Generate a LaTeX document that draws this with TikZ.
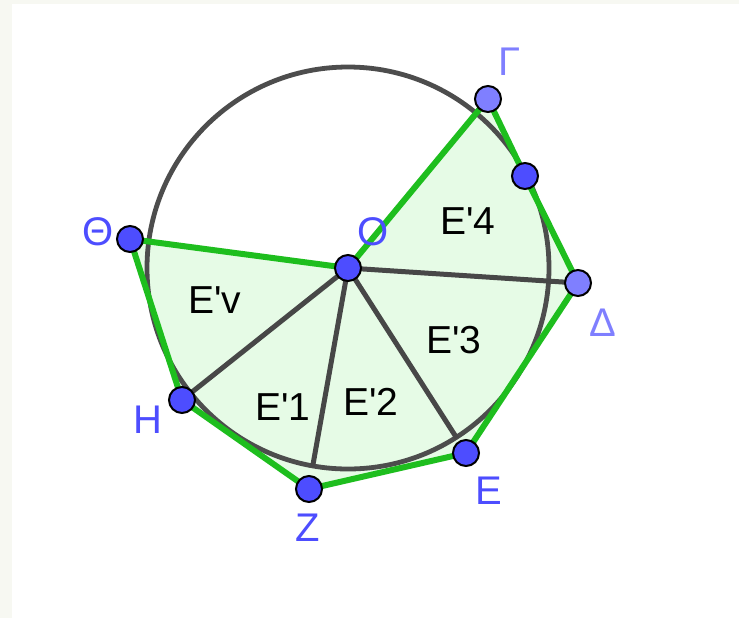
\documentclass[tikz,border=0pt]{standalone}
\usepackage{fontspec}
\setmainfont{Liberation Sans}
\usepackage{xcolor}
\definecolor{cEdge}{HTML}{1EBE1E}
\definecolor{cFill}{HTML}{E6FBE6}
\definecolor{cRay}{HTML}{474747}
\definecolor{cCircle}{HTML}{4D4D4D}
\definecolor{cPoint}{HTML}{4D4DFF}
\definecolor{cPointLt}{HTML}{7F7FFF}
\definecolor{cFrame}{HTML}{F7F8F2}
\usepackage{tikz}
\usetikzlibrary{positioning,backgrounds}
\tikzset{
  pt-dot/.style={circle,draw=black,line width=1pt,fill=cPoint,
    minimum size=13pt,inner sep=0pt},
  pt-dot-free/.style={pt-dot,fill=cPointLt},
  pt-name/.style={text=cPoint,font=\fontsize{20}{22}\selectfont,inner sep=0pt},
  pt-name-free/.style={pt-name,text=cPointLt},
  area-name/.style={font=\fontsize{19.5}{22}\selectfont,inner sep=0pt},
  side/.style={draw=cEdge,line width=3pt,line join=round},
  ray/.style={draw=cRay,line width=2.5pt},
}

\begin{document}
\begin{tikzpicture}[x=0.5pt,y=-0.5pt]
  \useasboundingbox (0,0) rectangle (739,618);
  % points
  \node[pt-dot]      (O)  at (348,268) {};
  \node[pt-dot-free] (G)  at (488,99)  {};
  \node[pt-dot]      (P)  at (525,176) {};
  \node[pt-dot-free] (D)  at (578,283) {};
  \node[pt-dot]      (E)  at (466,453) {};
  \node[pt-dot]      (Z)  at (309,489) {};
  \node[pt-dot]      (H)  at (182,400) {};
  \node[pt-dot]      (Th) at (130,239) {};
  \coordinate (cZ) at ([shift={(259.9:101pt)}]O.center);
  \coordinate (cE) at ([shift={(-57.4:101pt)}]O.center);
  \begin{scope}[on background layer]
    \fill[cFrame] (0,0) rectangle (739,618);
    \fill[white] (12,4) rectangle (739,618);
    \fill[cFill] (O.center) -- (G.center) -- (P.center) -- (D.center)
      -- (E.center) -- (Z.center) -- (H.center) -- (Th.center) -- cycle;
    \draw[cCircle,line width=2.4pt] (O.center) circle[radius=100.5pt];
    \draw[side] (Th.center) -- (H.center) -- (Z.center) -- (E.center)
      -- (D.center) -- (P.center) -- (G.center) -- (O.center) -- cycle;
    \draw[ray] (O.center) -- (H.center);
    \draw[ray] (O.center) -- (cZ);
    \draw[ray] (O.center) -- (cE);
    \draw[ray] (O.center) -- (D.center);
  \end{scope}
  % labels
  \node[pt-name-free] (G-l)  at (510,62)  {Γ};
  \node[pt-name]      (Th-l) at (98,232)  {Θ};
  \node[pt-name]      (O-l)  at (373,232) {O};
  \node[pt-name-free] (D-l)  at (603,323) {Δ};
  \node[pt-name]      (H-l)  at (148,420) {H};
  \node[pt-name]      (E-l)  at (489,491) {E};
  \node[pt-name]      (Z-l)  at (308,528) {Z};
  \node[area-name] (a4) at (468,221) {E\textquotesingle 4};
  \node[area-name] (av) at (215,300) {E\textquotesingle v};
  \node[area-name] (a3) at (454,340) {E\textquotesingle 3};
  \node[area-name] (a1) at (283,407) {E\textquotesingle 1};
  \node[area-name] (a2) at (371,402) {E\textquotesingle 2};
\end{tikzpicture}
\end{document}
